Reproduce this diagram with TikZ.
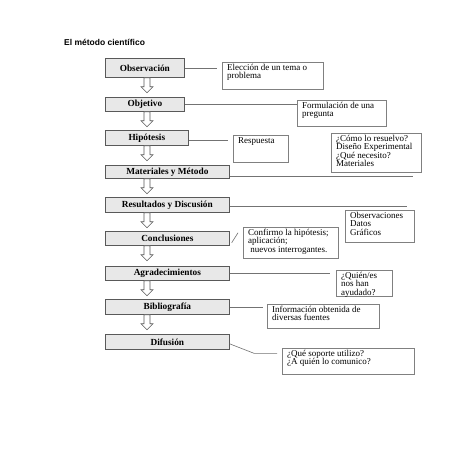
\documentclass[tikz,border=0pt]{standalone}
\usepackage{fontspec}
\setmainfont{Liberation Serif}
\newfontfamily\titlefont{Liberation Sans}
\usetikzlibrary{positioning, shadows, calc}

\tikzset{
  mainbox/.style={draw=black!65, fill=black!9, line width=0.7pt, anchor=north west, inner sep=0pt,
    font=\fontsize{9.3}{10}\selectfont\bfseries,
    drop shadow={shadow xshift=0.8pt, shadow yshift=-0.8pt, fill=black!35, opacity=1}},
  infobox/.style={draw=black!50, fill=white, line width=0.6pt, anchor=north west, inner sep=0pt,
    drop shadow={shadow xshift=0.8pt, shadow yshift=-0.8pt, fill=black!30, opacity=1}},
  infotext/.style={anchor=north west, align=left, inner xsep=5pt, inner ysep=2pt,
    font=\fontsize{9}{8.4}\selectfont},
  link/.style={draw=black!55, line width=0.6pt},
  hollowdown/.pic={
    \draw[draw=black!65, fill=white, line width=0.6pt]
      (-3,0) -- (3,0) -- (3,9) -- (6,9) -- (0,15) -- (-6,9) -- (-3,9) -- cycle;
  }
}

\begin{document}
\begin{tikzpicture}[x=1pt, y=-1pt]
  \path[fill=white] (0,0) rectangle (453,453);
  \useasboundingbox (0,0) rectangle (453,453);

  \node[anchor=west, inner sep=0pt, font=\titlefont\bfseries\fontsize{8.5}{10}\selectfont] (title) at (64,42.5) {El método científico};

  % pasos del metodo
  \node[mainbox, minimum width=79pt, minimum height=19pt] (obs) at (105,58) {Observación};
  \node[mainbox, minimum width=79pt, minimum height=14pt] (obj) at (105,97) {Objetivo};
  \node[mainbox, minimum width=83pt, minimum height=15pt] (hip) at (105,130) {Hipótesis};
  \node[mainbox, minimum width=124pt, minimum height=13pt] (mat) at (105,165) {Materiales y Método};
  \node[mainbox, minimum width=124pt, minimum height=15pt] (res) at (105,197) {Resultados y Discusión};
  \node[mainbox, minimum width=124pt, minimum height=14pt] (con) at (105,231) {Conclusiones};
  \node[mainbox, minimum width=124pt, minimum height=14pt] (agr) at (105,266) {Agradecimientos};
  \node[mainbox, minimum width=124pt, minimum height=15pt] (bib) at (105,299) {Bibliografía};
  \node[mainbox, minimum width=124pt, minimum height=15pt] (dif) at (105,334) {Difusión};

  % flechas huecas
  \coordinate (col) at (147,0);
  \foreach \a in {obs,obj,hip,mat,res,con,agr,bib}
    \pic at (\a.south -| col) {hollowdown};

  % cuadros de la derecha
  \node[infobox, minimum width=101pt, minimum height=27pt] (eleccion) at (222,62) {};
  \node[infotext] at (eleccion.north west) {Elección de un tema o\\problema};
  \node[infobox, minimum width=89pt, minimum height=26pt] (formul) at (297,100) {};
  \node[infotext] at (formul.north west) {Formulación de una\\pregunta};
  \node[infobox, minimum width=55pt, minimum height=27pt] (resp) at (233,135) {};
  \node[infotext] at (resp.north west) {Respuesta};
  \node[infobox, minimum width=90pt, minimum height=39pt] (como) at (331,133) {};
  \node[infotext] at (como.north west) {¿Cómo lo resuelvo?\\Diseño Experimental\\¿Qué necesito?\\Materiales};
  \node[infobox, minimum width=69pt, minimum height=32pt] (observ) at (345,210) {};
  \node[infotext] at (observ.north west) {Observaciones\\Datos\\Gráficos};
  \node[infobox, minimum width=95pt, minimum height=31pt] (confirmo) at (243,227) {};
  \node[infotext] at (confirmo.north west) {Confirmo la hipótesis;\\aplicación;\\\ nuevos interrogantes.};
  \node[infobox, minimum width=56pt, minimum height=26pt] (quien) at (336,270) {};
  \node[infotext] at (quien.north west) {¿Quién/es\\nos han\\ayudado?};
  \node[infobox, minimum width=112pt, minimum height=24pt] (info) at (267,304) {};
  \node[infotext] at (info.north west) {Información obtenida de\\diversas fuentes};
  \node[infobox, minimum width=132pt, minimum height=26pt] (soporte) at (282,348) {};
  \node[infotext] at (soporte.north west) {¿Qué soporte utilizo?\\¿A quién lo comunico?};

  % lineas
  \coordinate (matend) at (413,176);
  \coordinate (resend) at (407,206);
  \draw[link] (obs.east) -- ($(eleccion.west |- obs.east)+(-5,0)$);
  \draw[link] (obj.east) -- (formul.west |- obj.east);
  \draw[link] ($(hip.east)+(0,2)$) -- ($(resp.west |- hip.east)+(-5,2)$);
  \draw[link] (mat.east |- matend) -- (matend);
  \draw[link] (res.east |- resend) -- (resend);
  \draw[link] ($(con.south east)+(2,-3)$) -- ($(confirmo.west)+(-5,-10)$);
  \draw[link] (agr.east) -- ($(quien.west |- agr.east)+(-6,0)$);
  \draw[link] (bib.east) -- ($(info.west |- bib.east)+(-4,0)$);
  \draw[link] ($(dif.east)+(0,2)$) -- ($(soporte.west)+(-28,-8)$) -- ($(soporte.west)+(-5,-8)$);
\end{tikzpicture}
\end{document}
